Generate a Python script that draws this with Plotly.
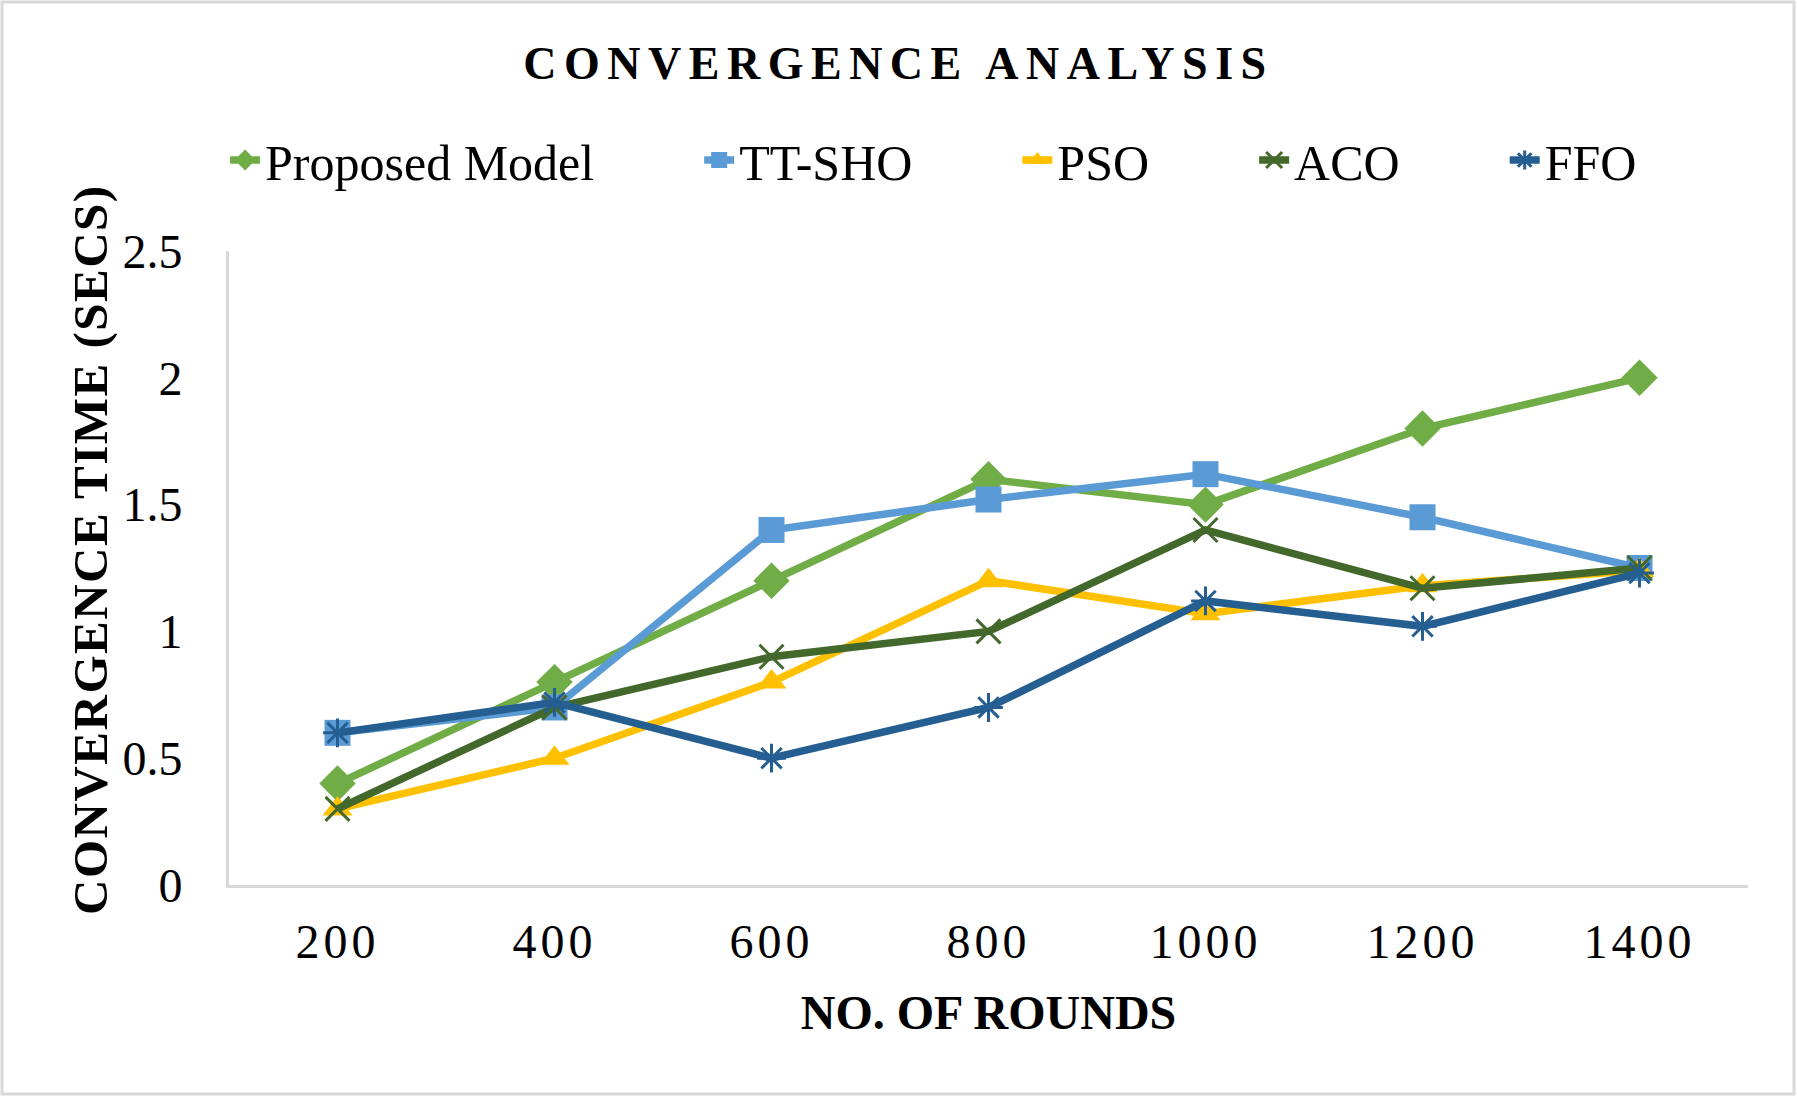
import plotly.graph_objects as go

rounds = ["200", "400", "600", "800", "1000", "1200", "1400"]
proposed = [0.40, 0.80, 1.20, 1.60, 1.50, 1.80, 2.00]
tt_sho = [0.60, 0.70, 1.40, 1.52, 1.62, 1.45, 1.25]
pso = [0.30, 0.50, 0.80, 1.20, 1.07, 1.18, 1.24]
aco = [0.30, 0.70, 0.90, 1.00, 1.40, 1.17, 1.25]
ffo = [0.60, 0.72, 0.50, 0.70, 1.12, 1.02, 1.23]

W, H = 1797, 1097
ML, MR, MT, MB = 229, 49, 251, 212
FONT = "Liberation Serif, Times New Roman, serif"
PAD = "&nbsp;" * 8

series = [
    ("Proposed Model", proposed, "#70AD47", "diamond", 28, None),
    ("TT-SHO", tt_sho, "#5B9BD5", "square", 26, None),
    ("PSO", pso, "#FFC000", "triangle-up", 26, None),
    ("ACO", aco, "#43682B", "x-thin-open", 24, 3),
    ("FFO", ffo, "#255E91", "asterisk-open", 24, 3),
]

fig = go.Figure()
for i, (name, vals, color, sym, size, lw) in enumerate(series):
    marker = dict(symbol=sym, size=size, color=color)
    if lw:
        marker["line"] = dict(color=color, width=lw)
    else:
        marker["line"] = dict(width=0)
    fig.add_trace(go.Scatter(
        x=rounds, y=vals, name=name + (PAD if i < len(series) - 1 else ""),
        mode="lines+markers",
        line=dict(color=color, width=7.5),
        marker=marker,
    ))

fx = lambda px: (px - ML) / (W - ML - MR)
fy = lambda py: 1 - (py - MT) / (H - MT - MB)

fig.update_layout(
    width=W, height=H,
    margin=dict(l=ML, r=MR, t=MT, b=MB),
    paper_bgcolor="white", plot_bgcolor="white",
    font=dict(family=FONT, color="black", size=48),
    title=dict(
        text='<span style="letter-spacing:7.5px">CONVERGENCE ANALYSIS</span>',
        x=0.5, xref="container", xanchor="center",
        y=1 - 63 / H, yanchor="middle",
        font=dict(family=FONT, size=46, color="black", weight="bold"),
    ),
    legend=dict(
        orientation="h", x=0.5195, xanchor="center", xref="container",
        y=1 - 160 / H, yanchor="middle", yref="container",
        font=dict(family=FONT, size=50, color="black"),
        itemsizing="trace", bgcolor="rgba(0,0,0,0)",
    ),
    xaxis=dict(
        type="category", range=[-0.5, 6.5],
        tickvals=rounds,
        ticktext=['<span style="letter-spacing:4px">%s</span>' % r for r in rounds],
        showgrid=False, showline=True, linecolor="#D9D9D9", linewidth=3,
        ticks="", ticklabelstandoff=12,
        tickfont=dict(family=FONT, size=48),
        title=dict(text="<b>NO. OF ROUNDS</b>", font=dict(family=FONT, size=48), standoff=29),
        zeroline=False,
    ),
    yaxis=dict(
        range=[0, 2.5], dtick=0.5, tickformat="~g",
        showgrid=False, showline=True, linecolor="#D9D9D9", linewidth=3,
        ticks="", ticklabelstandoff=34,
        tickfont=dict(family=FONT, size=48),
        title=dict(text='<b>&nbsp;&nbsp;&nbsp;<span style="letter-spacing:1.5px">CONVERGENCE TIME (SECS)</span></b>',
                   font=dict(family=FONT, size=49), standoff=0),
        zeroline=False,
    ),
    shapes=[dict(
        type="rect", xref="paper", yref="paper",
        x0=fx(2), x1=fx(W - 3), y0=fy(H - 3), y1=fy(2),
        line=dict(color="#D9D9D9", width=3), fillcolor="rgba(0,0,0,0)",
        layer="below",
    )],
)

fig.write_html("out.html", config={"displayModeBar": False},
               post_script="document.body.style.margin='0';document.body.style.overflow='hidden';")
